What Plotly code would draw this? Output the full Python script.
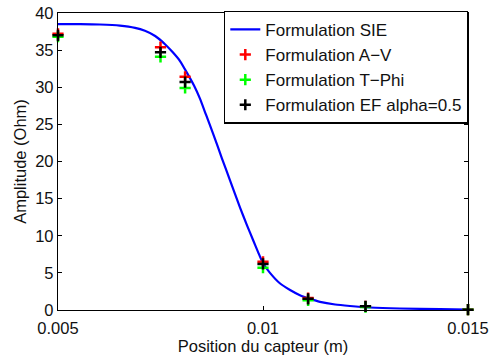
import plotly.graph_objects as go

# SIE curve
sie_x = [0.00500, 0.00554, 0.00602, 0.00651, 0.00688, 0.00712, 0.00737, 0.00761,
         0.00780, 0.00798, 0.00815, 0.00832, 0.00846, 0.00861, 0.00878, 0.00900,
         0.00920, 0.00944, 0.00961, 0.00976, 0.00988, 0.01000, 0.01017, 0.01041,
         0.01066, 0.01090, 0.01115, 0.01139, 0.01176, 0.01212, 0.01261, 0.01334,
         0.01432, 0.01500]
sie_y = [38.5, 38.5, 38.45, 38.3, 38.0, 37.6, 36.9, 35.8,
         34.7, 33.5, 31.9, 30.2, 28.5, 26.3, 23.8, 20.4,
         17.4, 13.8, 11.4, 9.4, 7.8, 6.3, 5.0, 3.6,
         2.7, 2.0, 1.5, 1.1, 0.74, 0.54, 0.34, 0.2,
         0.11, 0.07]

pts_x = [0.005, 0.0075, 0.0081, 0.010, 0.0111, 0.0125, 0.015]
av_y = [37.2, 35.4, 31.4, 6.5, 1.6, 0.5, 0.05]
tphi_y = [36.8, 34.1, 29.9, 5.7, 1.3, 0.4, 0.05]
ef_y = [37.0, 34.7, 30.7, 6.2, 1.5, 0.5, 0.05]

names = ["Formulation SIE", "Formulation A\u2212V", "Formulation T\u2212Phi",
         "Formulation EF alpha=0.5"]

fig = go.Figure()
fig.add_trace(go.Scatter(x=sie_x, y=sie_y, mode="lines", name=names[0],
                         line=dict(color="#0000FF", width=2.2, shape="spline", smoothing=0.6),
                         legendgroup="a"))
for ys, col, nm, g in [(av_y, "#FF0000", names[1], "b"),
                       (tphi_y, "#00FF00", names[2], "c"),
                       (ef_y, "#000000", names[3], "d")]:
    fig.add_trace(go.Scatter(x=pts_x, y=ys, mode="markers", name=nm, legendgroup=g,
                             marker=dict(symbol="cross-thin", size=8, color=col,
                                         line=dict(color=col, width=2.5)),
                             cliponaxis=False))

axis_common = dict(showgrid=False, zeroline=False, showline=True, linecolor="black",
                   linewidth=1.3, mirror="ticks", ticks="inside", ticklen=4,
                   tickcolor="black", tickfont=dict(size=16.5, color="#111"),
                   automargin=False)
fig.update_xaxes(range=[0.005, 0.015], tickvals=[0.005, 0.01, 0.015],
                 ticktext=["0.005", "0.01", "0.015"], ticklabelstandoff=3,
                 title=dict(text="Position du capteur (m)", font=dict(size=16.5, color="#111"), standoff=0),
                 **axis_common)
fig.update_yaxes(range=[0, 40], tickvals=list(range(0, 41, 5)),
                 title=dict(text="Amplitude (Ohm)", font=dict(size=16.5, color="#111"), standoff=4),
                 **axis_common)
fig.update_layout(
    width=492, height=357,
    margin=dict(l=58, r=24, t=11, b=47),
    plot_bgcolor="white", paper_bgcolor="white",
    font=dict(family="Liberation Sans, Arial, sans-serif", color="#111"),
    legend=dict(x=1, xanchor="right", y=1.008, yanchor="top", bgcolor="white",
                bordercolor="black", borderwidth=1.3, font=dict(size=17),
                tracegroupgap=0, traceorder="normal"),
)
fig.write_html("out.html")
